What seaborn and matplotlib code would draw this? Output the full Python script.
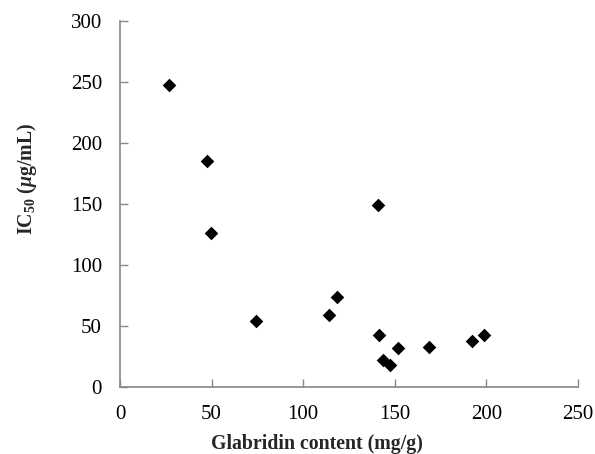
import matplotlib
matplotlib.use("Agg")
import matplotlib.pyplot as plt
import seaborn as sns
import pandas as pd

glabridin = [26.7, 47.5, 49.9, 74.4, 113.9, 118.6, 141.0, 141.2, 143.7, 147.7, 152.1, 168.9, 192.5, 198.7]
ic50 = [247.5, 185.2, 125.7, 53.8, 58.8, 73.8, 148.9, 42.6, 21.6, 18.0, 31.7, 32.3, 37.7, 42.4]
x_ticks = [0, 50, 100, 150, 200, 250]
y_ticks = [0, 50, 100, 150, 200, 250, 300]

df = pd.DataFrame({"glabridin": glabridin, "ic50": ic50})

sns.set_style("ticks")
plt.rcParams["font.family"] = ["Liberation Serif", "DejaVu Serif"]
plt.rcParams["mathtext.fontset"] = "custom"
plt.rcParams["mathtext.rm"] = "Liberation Serif:bold"
plt.rcParams["mathtext.it"] = "Liberation Serif:bold:italic"
plt.rcParams["mathtext.bf"] = "Liberation Serif:bold"

fig = plt.figure(figsize=(5.95, 4.54), dpi=100)
ax = fig.add_axes([0.2017, 0.148, 0.7693, 0.806])

sns.scatterplot(data=df, x="glabridin", y="ic50", ax=ax, marker="D", s=48,
                color="black", edgecolor="black", linewidth=0)

ax.set_xlim(0, 250)
ax.set_ylim(0, 300)
ax.set_xticks(x_ticks)
ax.set_yticks(y_ticks)
ax.tick_params(direction="in", length=6, width=1, color="#888888",
               labelsize=15, labelcolor="black", bottom=True, left=True)
ax.tick_params(axis="y", pad=13)
ax.tick_params(axis="x", pad=13)
for side in ["top", "right"]:
    ax.spines[side].set_visible(False)
for side in ["left", "bottom"]:
    ax.spines[side].set_color("#888888")
    ax.spines[side].set_linewidth(1.2)

ax.set_xlabel("Glabridin content (mg/g)", fontsize=14.3, fontweight="bold")
ax.set_ylabel("IC$_{50}$ ($\\mu$g/mL)", fontsize=14.3, fontweight="bold")
ax.xaxis.set_label_coords(0.431, -0.128)
ax.yaxis.set_label_coords(-0.178, 0.567)

fig.savefig("out.png", dpi=100)
